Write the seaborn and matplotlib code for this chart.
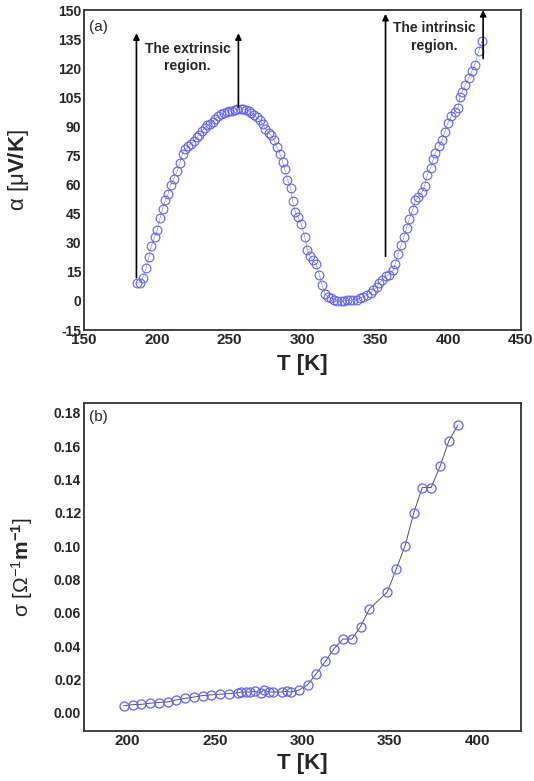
import matplotlib
matplotlib.use("Agg")
import matplotlib.pyplot as plt
import seaborn as sns
import pandas as pd

# ---------------- data ----------------
T_a = [186.2, 188.4, 190.3, 192.6, 194.4, 196.2, 198.5, 200.3, 202.2, 204.0,
       205.8, 207.7, 209.5, 211.8, 214.1, 215.9, 217.7, 219.6, 221.4, 223.2,
       225.5, 227.3, 229.2, 231.0, 232.8, 234.7, 236.5, 238.3, 240.2, 242.0,
       243.8, 246.1, 247.9, 249.8, 251.6, 253.4, 255.3, 257.5, 259.4, 261.2,
       263.0, 264.9, 266.7, 268.5, 270.8, 272.7, 274.5, 276.8, 278.6, 280.4,
       282.3,
       284.6, 286.4, 287.8, 289.6, 291.9, 293.2, 295.1, 296.9, 299.2, 301.5,
       303.3, 305.1, 307.0, 309.3, 311.6, 313.4, 315.7, 317.5, 319.8, 321.6,
       323.9, 326.2, 328.5, 330.3, 332.6, 334.9, 337.2, 339.5, 341.8, 344.5,
       346.8, 348.6, 350.9, 352.7, 354.6, 357.3, 359.2, 362.4, 363.7, 365.6,
       367.8, 369.7, 371.5, 373.3, 375.6, 377.5, 379.3, 382.0, 383.9, 385.7,
       388.0, 389.8, 391.2, 393.9, 395.8, 397.6, 399.9, 402.2, 404.5, 406.8,
       408.1, 409.5, 411.8, 414.1, 416.4, 418.2, 420.9, 423.2]
alpha_a = [9.3, 9.3, 11.9, 16.8, 22.4, 28.1, 32.9, 36.7, 42.5, 47.6,
           51.8, 55.1, 59.8, 63.1, 67.1, 71.2, 75.9, 78.3, 79.7, 81.1,
           82.2, 84.4, 85.8, 87.4, 89.3, 90.6, 91.1, 92.3, 94.0, 95.3,
           96.2, 96.9, 97.4, 97.9, 98.1, 98.4, 98.8, 99.0, 99.0, 98.6,
           97.9, 96.9, 95.8, 94.6, 93.2, 91.1, 88.8, 86.5, 85.3, 83.0,
           79.6,
           75.7, 71.7, 67.8, 62.6, 58.0, 51.4, 45.8, 43.4, 39.5, 33.2,
           26.2, 23.1, 21.0, 18.9, 13.6, 8.0, 3.5, 2.1, 1.4, 0.7,
           0.0, -0.3, 0.0, 0.3, 0.3, 0.7, 0.7, 1.4, 2.1, 3.1,
           4.2, 5.6, 7.0, 9.1, 10.8, 12.6, 13.6, 15.7, 19.2, 24.1,
           29.0, 32.9, 37.8, 42.3, 46.9, 51.8, 53.5, 56.0, 59.5, 65.1,
           68.6, 73.1, 76.3, 79.8, 82.9, 87.1, 91.7, 95.5, 97.6, 99.7,
           105.0, 107.8, 111.3, 115.1, 118.6, 121.8, 128.8, 134.0]

T_b = [197.7, 202.9, 207.8, 212.8, 218.0, 223.0, 227.9, 232.9, 237.9, 242.9,
       247.8, 253.0, 258.0, 263.0, 264.7, 267.8, 269.7, 272.9, 276.0, 277.9,
       281.0, 282.9, 288.0, 290.9, 293.2, 298.0, 303.0, 307.9, 313.1, 318.1,
       323.1, 328.2, 333.2, 338.2, 348.5, 353.6, 358.7, 363.6, 368.5, 373.6,
       378.7, 383.8, 388.9]
sigma_b = [0.0042, 0.0048, 0.0050, 0.0057, 0.0061, 0.0065, 0.0077, 0.0086, 0.0094, 0.0103,
           0.0107, 0.0111, 0.0115, 0.0119, 0.0124, 0.0124, 0.0124, 0.0128, 0.0119, 0.0136,
           0.0124, 0.0124, 0.0124, 0.0128, 0.0124, 0.0136, 0.0168, 0.0235, 0.0308, 0.0385,
           0.0442, 0.0442, 0.0517, 0.0622, 0.0725, 0.0862, 0.1003, 0.1198, 0.1352, 0.1352,
           0.1480, 0.1634, 0.1727]

xticks_a = [150, 200, 250, 300, 350, 400, 450]
yticks_a = [-15, 0, 15, 30, 45, 60, 75, 90, 105, 120, 135, 150]
xticks_b = [200, 250, 300, 350, 400]
yticks_b = [0.00, 0.02, 0.04, 0.06, 0.08, 0.10, 0.12, 0.14, 0.16, 0.18]

# arrows: (T, bottom, top)
arrows_a = [(186.0, 12, 138), (256.0, 100, 138), (357.0, 23, 148), (424.0, 125, 150)]

# ---------------- style ----------------
sns.set_style("white")
plt.rcParams['font.family'] = ['Liberation Sans', 'DejaVu Sans']
plt.rcParams['mathtext.fontset'] = 'custom'
plt.rcParams['mathtext.rm'] = 'Liberation Sans'
plt.rcParams['mathtext.bf'] = 'Liberation Sans:bold'
plt.rcParams['mathtext.it'] = 'Liberation Sans:italic'

MARK = '#6262ff'
LINE = '#555555'
FRAME = '#333333'

fig = plt.figure(figsize=(5.34, 7.81), dpi=100)
ax1 = fig.add_axes([84/534, 1-330/781, 437/534, 320/781])
ax2 = fig.add_axes([84/534, 1-731/781, 437/534, 328/781])

df_a = pd.DataFrame({'T': T_a, 'alpha': alpha_a})
df_b = pd.DataFrame({'T': T_b, 'sigma': sigma_b})

sns.lineplot(data=df_a, x='T', y='alpha', ax=ax1, sort=False, estimator=None,
             color='#999999', linewidth=0.5, marker='o', markersize=6.3,
             markerfacecolor='none', markeredgecolor=MARK, markeredgewidth=0.8)
sns.lineplot(data=df_b, x='T', y='sigma', ax=ax2, sort=False, estimator=None,
             color=LINE, linewidth=0.7, marker='o', markersize=6.5,
             markerfacecolor='none', markeredgecolor=MARK, markeredgewidth=0.9)

for ax in (ax1, ax2):
    for s in ax.spines.values():
        s.set_color(FRAME)
        s.set_linewidth(1.3)
    ax.tick_params(axis='both', length=0, pad=2, labelsize=10.5)

ax1.set_xlim(150, 450)
ax1.set_ylim(-15, 150)
ax1.set_xticks(xticks_a)
ax1.set_yticks(yticks_a)
ax1.set_xticklabels([str(v) for v in xticks_a], fontweight='bold', fontsize=11)
ax1.set_yticklabels([str(v) for v in yticks_a], fontweight='bold', fontsize=10)

ax2.set_xlim(175, 425)
ax2.set_ylim(-0.011, 0.186)
ax2.set_xticks(xticks_b)
ax2.set_yticks(yticks_b)
ax2.set_xticklabels([str(v) for v in xticks_b], fontweight='bold', fontsize=11)
ax2.set_yticklabels(['%.2f' % v for v in yticks_b], fontweight='bold', fontsize=10)

ax1.set_xlabel('T [K]', fontsize=16, fontweight='bold')
ax2.set_xlabel('T [K]', fontsize=16, fontweight='bold')
ax1.xaxis.set_label_coords(0.5, -0.075)
ax2.xaxis.set_label_coords(0.5, -0.068)
ax1.set_ylabel(r'$\mathrm{α\ [μ}\mathbf{V/K}\mathrm{]}$', fontsize=16)
ax2.set_ylabel(r'$\mathrm{σ\ [Ω}^{-1}\mathbf{m}^{\mathbf{-1}}\mathrm{]}$', fontsize=15)
ax1.yaxis.set_label_coords(-0.122, 0.5)
ax2.yaxis.set_label_coords(-0.112, 0.5)

ax1.text(0.012, 0.948, '(a)', transform=ax1.transAxes, fontsize=11, ha='left', va='center')
ax2.text(0.012, 0.957, '(b)', transform=ax2.transAxes, fontsize=11, ha='left', va='center')

for (t, lo, hi) in arrows_a:
    ax1.annotate('', xy=(t, hi), xytext=(t, lo),
                 arrowprops=dict(arrowstyle='-|>', color='black', lw=1.2,
                                 mutation_scale=9, shrinkA=0, shrinkB=0))

ax1.text(221, 125.5, 'The extrinsic\nregion.', fontsize=10, fontweight='bold',
         ha='center', va='center', linespacing=1.35)
ax1.text(390.5, 136, 'The intrinsic\nregion.', fontsize=10, fontweight='bold',
         ha='center', va='center', linespacing=1.35)

fig.savefig('out.png', dpi=100)
